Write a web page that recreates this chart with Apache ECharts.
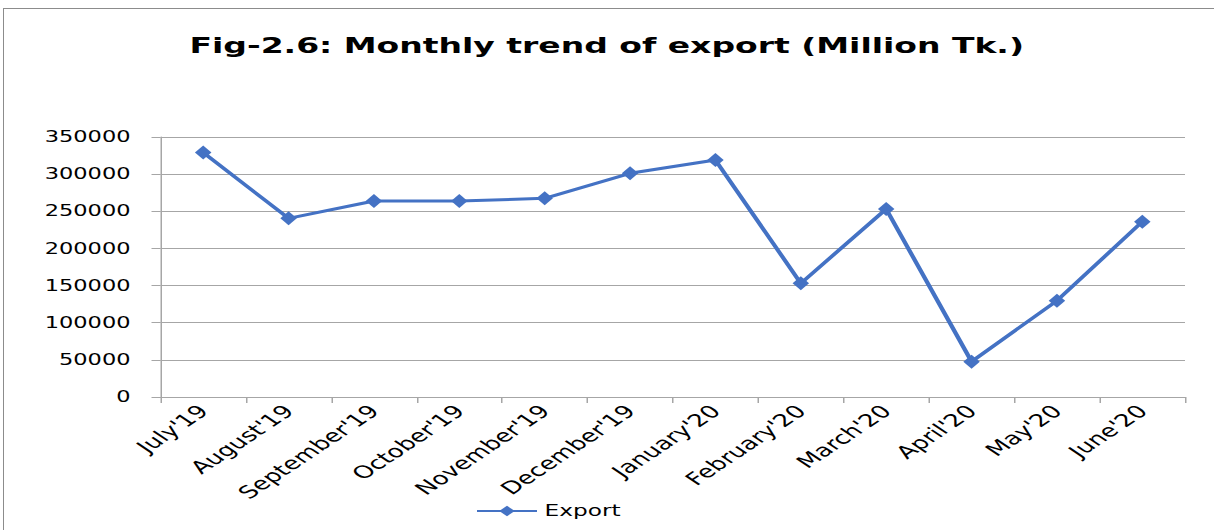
<!DOCTYPE html>
<html>
<head>
<meta charset="utf-8">
<script src="https://cdn.jsdelivr.net/npm/echarts@6/dist/echarts.min.js"></script>
<style>
  html, body { margin: 0; padding: 0; background: #fff; overflow: hidden; }
  #frame { position: absolute; left: 3px; top: 8px; width: 1230px; height: 540px; border: 1px solid #8c8c8c; }
  /* the source picture is stretched sideways, so the chart is drawn narrow and widened */
  #chart { position: absolute; left: 0; top: 0; width: 809px; height: 530px;
           transform: scaleX(1.5); transform-origin: 0 0; }
</style>
</head>
<body>
<div id="frame"></div>
<div id="chart"></div>
<script>
var months = ["July'19", "August'19", "September'19", "October'19", "November'19", "December'19",
              "January'20", "February'20", "March'20", "April'20", "May'20", "June'20"];
var exportValues = [329000, 240500, 263800, 263800, 267400, 301100,
                    319000, 153000, 253100, 47600, 129700, 236000];
var yTicks = [0, 50000, 100000, 150000, 200000, 250000, 300000, 350000];

var chart = echarts.init(document.getElementById('chart'), null, { renderer: 'svg' });
var font = '"DejaVu Sans", sans-serif';

var option = {
  backgroundColor: 'transparent',
  animation: false,
  title: {
    text: 'Fig-2.6: Monthly trend of export (Million Tk.)',
    left: 'center',
    top: 30,
    textStyle: { fontFamily: font, fontWeight: 'bold', fontSize: 22, color: '#000' }
  },
  legend: {
    data: ['Export'],
    top: 498,
    left: 312,
    itemWidth: 40,
    itemHeight: 13,
    itemGap: 5,
    textStyle: { fontFamily: font, fontSize: 15.5, color: '#000' }
  },
  grid: { left: 107, right: 19, top: 137, bottom: 133 },
  xAxis: {
    type: 'category',
    data: months,
    boundaryGap: true,
    axisLine: { lineStyle: { color: '#a6a6a6', width: 1 } },
    axisTick: { show: true, length: 6, lineStyle: { color: '#a6a6a6' } },
    axisLabel: { rotate: 45, interval: 0, margin: 11, fontFamily: font, fontSize: 17.5, color: '#000' }
  },
  yAxis: {
    type: 'value',
    min: yTicks[0],
    max: yTicks[yTicks.length - 1],
    interval: 50000,
    axisLine: { show: true, lineStyle: { color: '#a6a6a6', width: 1 } },
    axisTick: { show: true, length: 6, lineStyle: { color: '#a6a6a6' } },
    splitLine: { lineStyle: { color: '#a6a6a6', width: 1 } },
    axisLabel: {
      margin: 20, fontFamily: font, fontSize: 15, color: '#000',
      formatter: function (v) { return String(v); }
    }
  },
  series: [{
    name: 'Export',
    type: 'line',
    data: exportValues,
    symbol: 'diamond',
    symbolSize: [11, 14],
    lineStyle: { color: '#4472c4', width: 3 },
    itemStyle: { color: '#4472c4' }
  }]
};

chart.setOption(option);
</script>
</body>
</html>
